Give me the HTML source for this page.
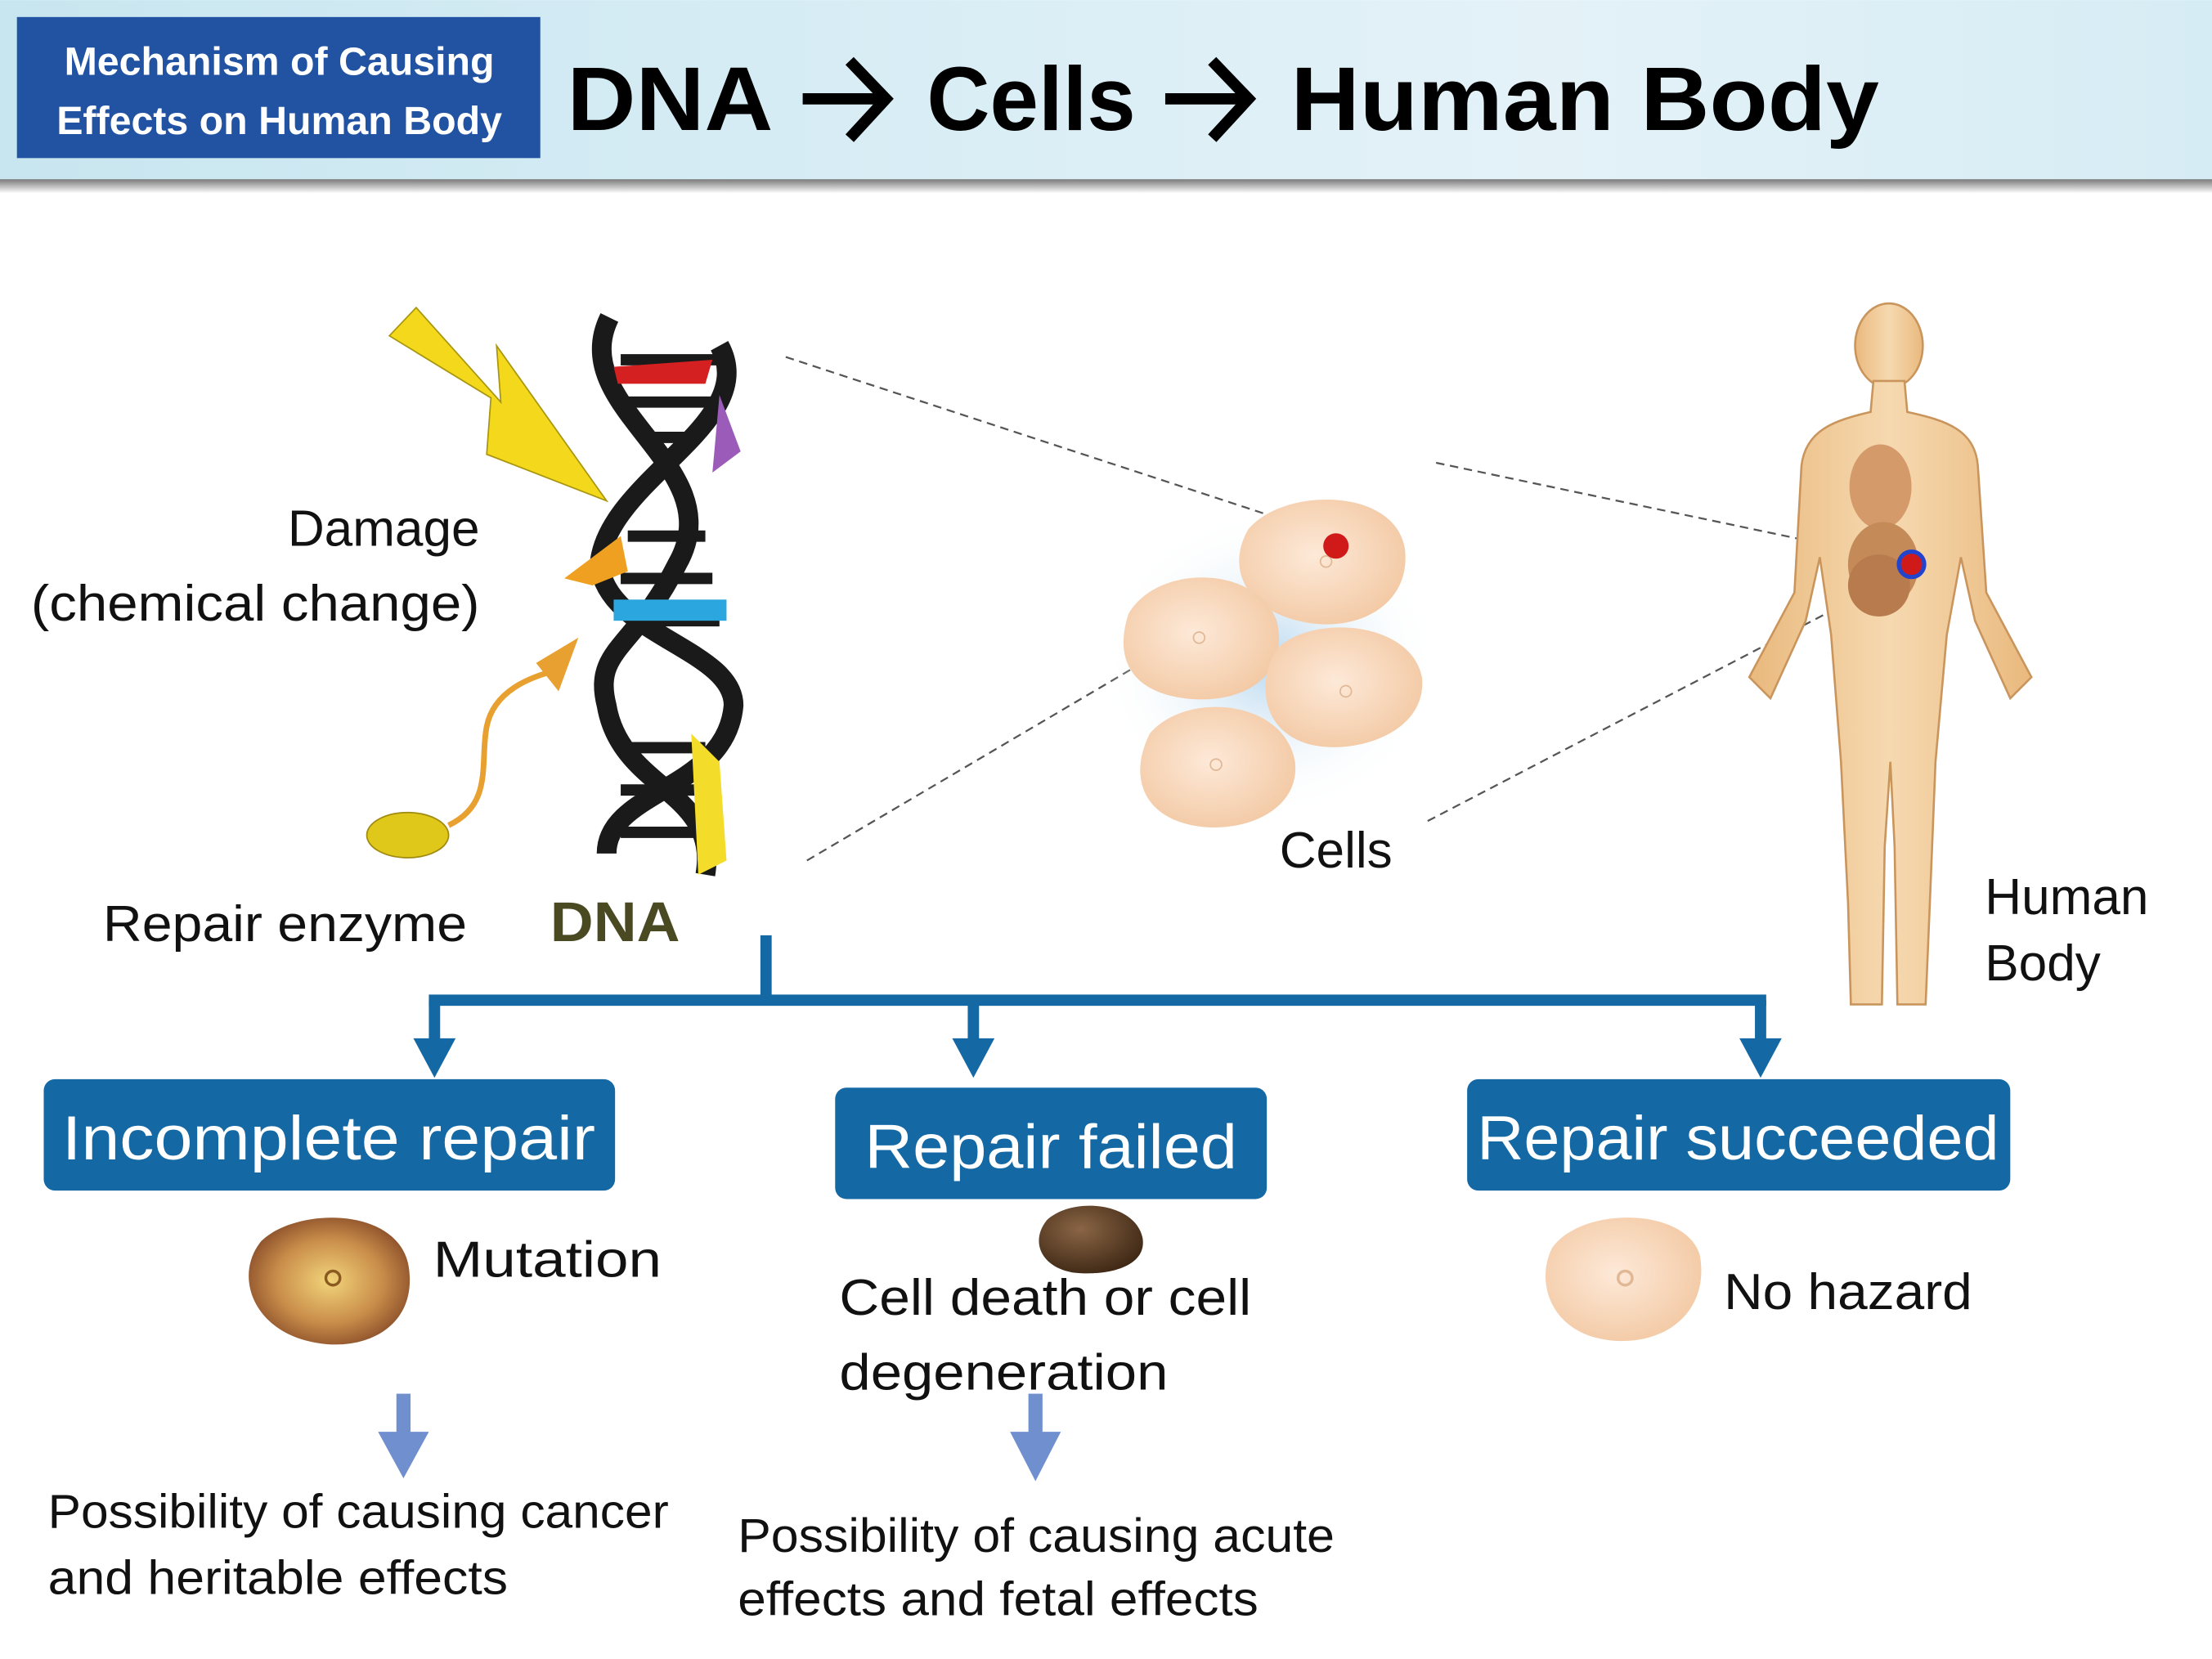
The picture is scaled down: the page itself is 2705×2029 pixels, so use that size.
<!DOCTYPE html>
<html><head><meta charset="utf-8"><style>
html,body{margin:0;padding:0;background:#fff}
svg{display:block}
text{font-family:"Liberation Sans",sans-serif}
</style></head><body>
<svg width="2705" height="2029" viewBox="0 0 1568 1176" xmlns="http://www.w3.org/2000/svg">
<defs>
<linearGradient id="hdr" x1="0" x2="1" y1="0" y2="0"><stop offset="0" stop-color="#c8e6f0"/><stop offset="0.7" stop-color="#e4f2f8"/><stop offset="1" stop-color="#d6ecf4"/></linearGradient>
<linearGradient id="sh" x1="0" x2="0" y1="0" y2="1"><stop offset="0" stop-color="#7a7a7a"/><stop offset="1" stop-color="#ffffff"/></linearGradient>
<radialGradient id="cell" cx="0.45" cy="0.45" r="0.6"><stop offset="0" stop-color="#fde9d8"/><stop offset="1" stop-color="#f3c9a4"/></radialGradient>
<radialGradient id="mut" cx="0.5" cy="0.5" r="0.55"><stop offset="0" stop-color="#f2d47a"/><stop offset="0.6" stop-color="#c98d4a"/><stop offset="1" stop-color="#8a4e2a"/></radialGradient>
<radialGradient id="dead" cx="0.4" cy="0.35" r="0.7"><stop offset="0" stop-color="#8a6545"/><stop offset="1" stop-color="#3d2714"/></radialGradient>
<radialGradient id="glow" cx="0.5" cy="0.5" r="0.5"><stop offset="0" stop-color="#b9d8ef"/><stop offset="1" stop-color="#ffffff" stop-opacity="0"/></radialGradient>
<linearGradient id="body" x1="0" x2="1"><stop offset="0" stop-color="#e9b97e"/><stop offset="0.5" stop-color="#f6d9b0"/><stop offset="1" stop-color="#e9b97e"/></linearGradient>
</defs>
<rect x="0" y="0" width="1568" height="128" fill="url(#hdr)"/>
<rect x="0" y="127" width="1568" height="10" fill="url(#sh)"/>
<rect x="12" y="12" width="371" height="100" fill="#2253a3"/>
<text x="198" y="53" font-size="28" font-weight="bold" fill="#fff" text-anchor="middle">Mechanism of Causing</text>
<text x="198" y="95" font-size="28" font-weight="bold" fill="#fff" text-anchor="middle">Effects on Human Body</text>
<text x="402" y="92" font-size="64" font-weight="bold" fill="#000" textLength="146" lengthAdjust="spacingAndGlyphs">DNA</text>
<text x="657" y="92" font-size="64" font-weight="bold" fill="#000" textLength="148" lengthAdjust="spacingAndGlyphs">Cells</text>
<text x="915" y="92" font-size="64" font-weight="bold" fill="#000" textLength="417" lengthAdjust="spacingAndGlyphs">Human Body</text>
<g stroke="#000" stroke-width="8" fill="none" stroke-linecap="square">
<line x1="573" y1="70" x2="625" y2="70"/><polyline points="605,46 628,70 605,95"/>
<line x1="830" y1="70" x2="882" y2="70"/><polyline points="862,46 885,70 862,95"/>
</g>

<!-- lightning -->
<polygon points="276,238 295,218 355,285 352,245 430,355 345,322 348,282" fill="#f3d81c" stroke="#a89510" stroke-width="1"/>
<!-- DNA -->
<g stroke="#1a1a1a" stroke-width="14" fill="none">
<path d="M432,225 C400,290 520,330 480,400 C450,460 420,460 430,500 C440,560 510,560 500,620"/>
<path d="M510,245 C540,300 430,340 425,400 C430,450 520,460 520,500 C515,560 430,560 430,605"/>
</g>
<g stroke="#1a1a1a" stroke-width="8">
<line x1="440" y1="255" x2="508" y2="255"/><line x1="445" y1="285" x2="505" y2="285"/><line x1="455" y1="310" x2="495" y2="310"/>
<line x1="445" y1="380" x2="500" y2="380"/><line x1="440" y1="410" x2="505" y2="410"/><line x1="445" y1="440" x2="510" y2="440"/>
<line x1="445" y1="530" x2="500" y2="530"/><line x1="440" y1="560" x2="505" y2="560"/><line x1="440" y1="590" x2="500" y2="590"/>
</g>
<path d="M435,260 L505,255 L500,272 L438,272Z" fill="#d42020"/>
<path d="M510,280 L525,320 L505,335 Z" fill="#9a5cb8"/>
<path d="M400,410 L440,380 L445,405 L420,415Z" fill="#f0a020"/>
<rect x="435" y="425" width="80" height="15" fill="#2ba6de"/>
<path d="M490,520 L510,540 L515,610 L495,620Z" fill="#f3dc2a"/>
<!-- enzyme -->
<ellipse cx="289" cy="592" rx="29" ry="16" fill="#e0c81a" stroke="#a08a10"/>
<path d="M318,585 C350,570 340,540 345,515 C350,490 375,480 395,475" stroke="#e8a030" stroke-width="4" fill="none"/>
<polygon points="410,452 396,490 380,470" fill="#e8a030"/>
<text x="340" y="387" font-size="36" text-anchor="end" fill="#111">Damage</text>
<text x="340" y="440" font-size="36" text-anchor="end" fill="#111" textLength="318" lengthAdjust="spacingAndGlyphs">(chemical change)</text>
<text x="73" y="667" font-size="36" fill="#111" textLength="258" lengthAdjust="spacingAndGlyphs">Repair enzyme</text>
<text x="390" y="667" font-size="40" font-weight="bold" fill="#4a4a22" textLength="92" lengthAdjust="spacingAndGlyphs">DNA</text>

<!-- dashed lines -->
<g stroke="#555" stroke-width="1.3" stroke-dasharray="6,4" fill="none">
<line x1="557" y1="253" x2="945" y2="380"/>
<line x1="572" y1="610" x2="945" y2="390"/>
<line x1="1018" y1="328" x2="1352" y2="398"/>
<line x1="1012" y1="582" x2="1352" y2="405"/>
</g>
<!-- cells -->
<ellipse cx="900" cy="470" rx="120" ry="110" fill="url(#glow)"/>
<path d="M885,375 C910,345 990,345 996,390 C1000,430 960,450 920,440 C880,430 870,400 885,375Z" fill="url(#cell)"/>
<path d="M800,435 C820,400 890,400 905,440 C915,480 880,500 840,495 C800,490 790,465 800,435Z" fill="url(#cell)"/>
<path d="M905,460 C930,435 1000,440 1008,480 C1012,520 960,535 930,528 C895,520 890,485 905,460Z" fill="url(#cell)"/>
<path d="M815,520 C840,490 910,495 918,540 C922,575 880,592 845,585 C810,578 800,550 815,520Z" fill="url(#cell)"/>
<g fill="none" stroke="#e0b896"><circle cx="850" cy="452" r="4"/><circle cx="954" cy="490" r="4"/><circle cx="862" cy="542" r="4"/><circle cx="940" cy="398" r="4"/></g>
<circle cx="947" cy="387" r="9" fill="#d01a1a"/>
<text x="907" y="615" font-size="36" fill="#111">Cells</text>

<!-- human body -->
<g fill="url(#body)" stroke="#c9955c" stroke-width="1.5">
<ellipse cx="1339" cy="245" rx="24" ry="30"/>
<path d="M1328,270 L1350,270 L1352,292 C1380,298 1400,305 1402,330 L1408,420 L1440,480 L1425,495 L1400,440 L1390,395 L1380,450 L1372,540 L1368,640 L1365,712 L1345,712 L1343,600 L1340,540 L1336,600 L1334,712 L1312,712 L1310,640 L1305,540 L1298,450 L1290,395 L1280,440 L1255,495 L1240,480 L1272,420 L1277,330 C1280,305 1300,298 1326,292Z"/>
</g>
<ellipse cx="1333" cy="345" rx="22" ry="30" fill="#d59a6a"/>
<ellipse cx="1335" cy="400" rx="25" ry="30" fill="#c48a58"/>
<ellipse cx="1332" cy="415" rx="22" ry="22" fill="#b87b4e"/>
<circle cx="1355" cy="400" r="9" fill="#d01a1a" stroke="#2244cc" stroke-width="3"/>
<text x="1407" y="648" font-size="36" fill="#111">Human</text>
<text x="1407" y="695" font-size="36" fill="#111">Body</text>

<!-- blue tree -->
<g stroke="#1469a5" stroke-width="8" fill="none">
<line x1="543" y1="663" x2="543" y2="712"/>
<line x1="304" y1="709" x2="1252" y2="709"/>
<line x1="308" y1="709" x2="308" y2="740"/>
<line x1="690" y1="709" x2="690" y2="740"/>
<line x1="1248" y1="709" x2="1248" y2="740"/>
</g>
<g fill="#1469a5">
<polygon points="293,736 323,736 308,764"/>
<polygon points="675,736 705,736 690,764"/>
<polygon points="1233,736 1263,736 1248,764"/>
</g>
<rect x="31" y="765" width="405" height="79" rx="8" fill="#1469a5"/>
<text x="233" y="822" font-size="44" fill="#fff" text-anchor="middle" textLength="378" lengthAdjust="spacingAndGlyphs">Incomplete repair</text>
<rect x="592" y="771" width="306" height="79" rx="8" fill="#1469a5"/>
<text x="745" y="828" font-size="44" fill="#fff" text-anchor="middle" textLength="264" lengthAdjust="spacingAndGlyphs">Repair failed</text>
<rect x="1040" y="765" width="385" height="79" rx="8" fill="#1469a5"/>
<text x="1232" y="822" font-size="44" fill="#fff" text-anchor="middle" textLength="370" lengthAdjust="spacingAndGlyphs">Repair succeeded</text>

<!-- outcomes -->
<path d="M185,880 C210,855 285,855 290,900 C295,940 260,958 225,952 C180,945 165,905 185,880Z" fill="url(#mut)"/>
<circle cx="236" cy="906" r="5" fill="none" stroke="#8a5a20" stroke-width="2"/>
<text x="307" y="905" font-size="36" fill="#111" textLength="162" lengthAdjust="spacingAndGlyphs">Mutation</text>
<path d="M742,865 C760,848 805,852 810,878 C813,898 785,905 760,902 C738,898 730,880 742,865Z" fill="url(#dead)"/>
<text x="595" y="932" font-size="36" fill="#111" textLength="292" lengthAdjust="spacingAndGlyphs">Cell death or cell</text>
<text x="595" y="985" font-size="36" fill="#111" textLength="233" lengthAdjust="spacingAndGlyphs">degeneration</text>
<path d="M1100,885 C1120,855 1195,855 1205,890 C1212,930 1180,955 1140,950 C1100,945 1088,910 1100,885Z" fill="url(#cell)"/>
<circle cx="1152" cy="906" r="5" fill="none" stroke="#e0b896" stroke-width="2"/>
<text x="1222" y="928" font-size="36" fill="#111" textLength="176" lengthAdjust="spacingAndGlyphs">No hazard</text>

<g fill="#6f8fcf">
<rect x="281" y="988" width="10" height="32"/><polygon points="268,1015 304,1015 286,1048"/>
<rect x="729" y="988" width="10" height="32"/><polygon points="716,1015 752,1015 734,1050"/>
</g>
<text x="34" y="1083" font-size="34" fill="#111" textLength="440" lengthAdjust="spacingAndGlyphs">Possibility of causing cancer</text>
<text x="34" y="1130" font-size="34" fill="#111" textLength="326" lengthAdjust="spacingAndGlyphs">and heritable effects</text>
<text x="523" y="1100" font-size="34" fill="#111" textLength="423" lengthAdjust="spacingAndGlyphs">Possibility of causing acute</text>
<text x="523" y="1145" font-size="34" fill="#111" textLength="369" lengthAdjust="spacingAndGlyphs">effects and fetal effects</text>
</svg>
</body></html>
